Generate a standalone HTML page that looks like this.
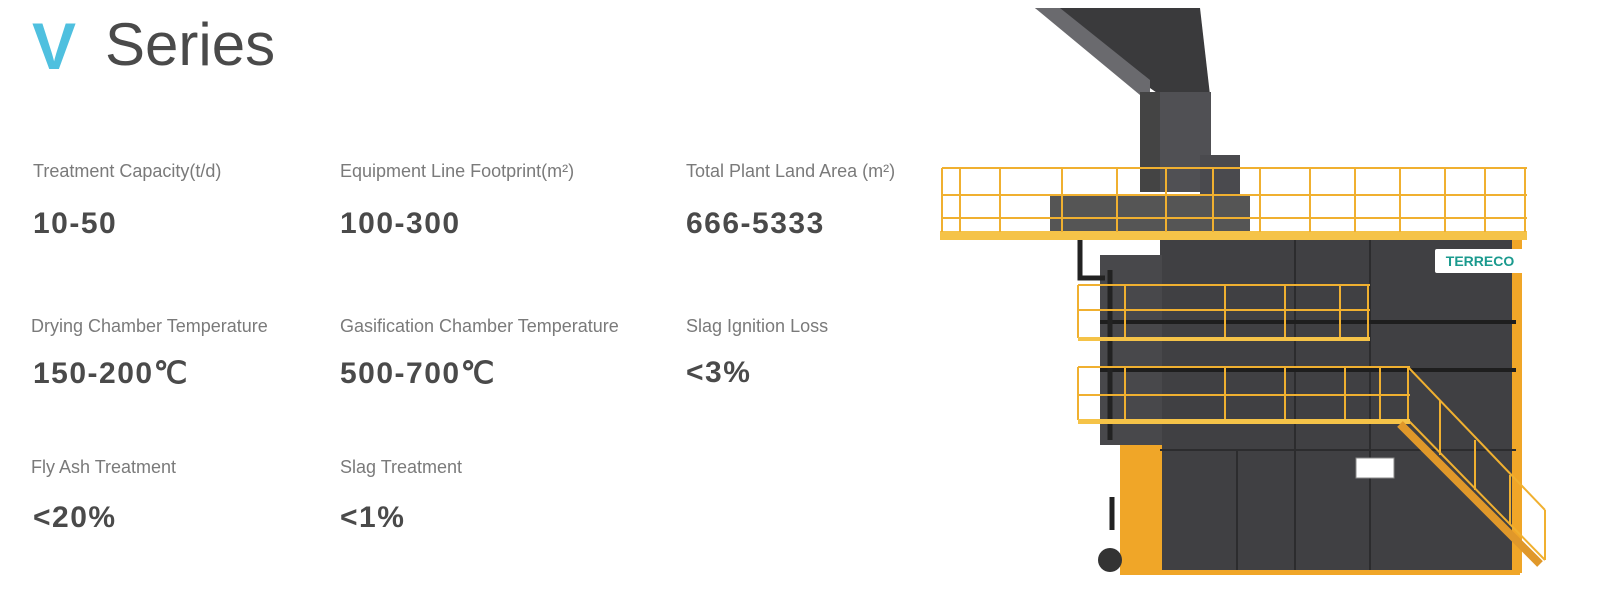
<!DOCTYPE html>
<html><head><meta charset="utf-8"><style>
body{margin:0;width:1600px;height:600px;background:#fff;position:relative;overflow:hidden;font-family:"Liberation Sans",sans-serif}
.t{position:absolute;white-space:nowrap}
.l{font-size:18px;color:#7a7a7a;letter-spacing:0px}
.v{font-size:30px;color:#4a4a4a;font-weight:bold;letter-spacing:1.5px}
</style></head><body>
<div class="t" style="left:32px;top:8px;font-size:66px;font-weight:bold;color:#4fc0df">V</div>
<div class="t" style="left:105px;top:10px;font-size:60px;color:#4a4a4a">Series</div>

<div class="t l" style="left:33px;top:161px">Treatment Capacity(t/d)</div>
<div class="t l" style="left:340px;top:161px">Equipment Line Footprint(m²)</div>
<div class="t l" style="left:686px;top:161px">Total Plant Land Area (m²)</div>
<div class="t v" style="left:33px;top:207px">10-50</div>
<div class="t v" style="left:340px;top:207px">100-300</div>
<div class="t v" style="left:686px;top:207px">666-5333</div>

<div class="t l" style="left:31px;top:316px">Drying Chamber Temperature</div>
<div class="t l" style="left:340px;top:316px">Gasification Chamber Temperature</div>
<div class="t l" style="left:686px;top:316px">Slag Ignition Loss</div>
<div class="t v" style="left:33px;top:356px">150-200℃</div>
<div class="t v" style="left:340px;top:356px">500-700℃</div>
<div class="t v" style="left:686px;top:356px">&lt;3%</div>

<div class="t l" style="left:31px;top:457px">Fly Ash Treatment</div>
<div class="t l" style="left:340px;top:457px">Slag Treatment</div>
<div class="t v" style="left:33px;top:501px">&lt;20%</div>
<div class="t v" style="left:340px;top:501px">&lt;1%</div>

<svg style="position:absolute;left:0;top:0" width="1600" height="600">
<polygon points="1035,8 1200,8 1210,95 1160,95" fill="#3a3a3c"/>
<polygon points="1035,8 1060,8 1150,80 1150,95 1140,95" fill="#6a6a6e"/>
<rect x="1140" y="92" width="71" height="100" fill="#505054"/>
<rect x="1140" y="92" width="20" height="100" fill="#444"/>
<rect x="1200" y="155" width="40" height="80" fill="#4a4a4e"/>
<rect x="1050" y="195" width="200" height="40" fill="#555"/>
<rect x="1160" y="238" width="356" height="335" fill="#404043"/>
<rect x="1100" y="255" width="62" height="190" fill="#48484b"/>
<rect x="1120" y="445" width="42" height="130" fill="#f0a628"/>
<rect x="1512" y="238" width="10" height="335" fill="#f0a628"/>
<rect x="1160" y="570" width="360" height="5" fill="#f0a628"/>
<g stroke="#2c2c2e" stroke-width="2">
<line x1="1295" y1="240" x2="1295" y2="570"/><line x1="1370" y1="240" x2="1370" y2="570"/>
<line x1="1160" y1="450" x2="1516" y2="450"/><line x1="1237" y1="450" x2="1237" y2="570"/>
</g>
<line x1="1100" y1="322" x2="1516" y2="322" stroke="#1e1e1e" stroke-width="4"/>
<line x1="1100" y1="370" x2="1516" y2="370" stroke="#1e1e1e" stroke-width="4"/>
<rect x="1356" y="458" width="38" height="20" fill="#fff" stroke="#888"/>
<path d="M1080,238 V278 H1105 M1110,270 V440 M1112,497 V530" stroke="#222" stroke-width="5" fill="none"/>
<circle cx="1110" cy="560" r="12" fill="#333"/>
<rect x="940" y="231" width="587" height="9" fill="#f5c348"/>
<g stroke="#f0b030" stroke-width="2" fill="none">
<line x1="942" y1="168" x2="1527" y2="168"/><line x1="942" y1="195" x2="1527" y2="195"/><line x1="942" y1="218" x2="1527" y2="218"/>
<path d="M942,168V232M960,168V232M1000,168V232M1062,168V232M1117,168V232M1166,168V232M1213,168V232M1260,168V232M1310,168V232M1355,168V232M1400,168V232M1445,168V232M1485,168V232M1525,168V232"/>
<line x1="1078" y1="285" x2="1370" y2="285"/><line x1="1078" y1="310" x2="1370" y2="310"/>
<path d="M1078,285V338M1125,285V338M1225,285V338M1285,285V338M1340,285V338M1368,285V338"/>
<line x1="1078" y1="367" x2="1410" y2="367"/><line x1="1078" y1="395" x2="1410" y2="395"/>
<path d="M1078,367V420M1125,367V420M1225,367V420M1285,367V420M1345,367V420M1380,367V420M1408,367V420"/>
<line x1="1408" y1="367" x2="1545" y2="510"/><line x1="1408" y1="420" x2="1545" y2="560"/>
<path d="M1440,400V455M1475,440V490M1510,475V525M1545,510V560"/>
</g>
<rect x="1078" y="337" width="292" height="4" fill="#f5c348"/>
<rect x="1078" y="419" width="332" height="5" fill="#f5c348"/>
<line x1="1400" y1="424" x2="1540" y2="564" stroke="#e0982a" stroke-width="8"/>
<rect x="1435" y="249" width="90" height="24" rx="2" fill="#fff"/>
<text x="1480" y="266" text-anchor="middle" font-family="Liberation Sans" font-weight="bold" font-size="14" fill="#1a9a8e">TERRECO</text>
</svg>
</body></html>
